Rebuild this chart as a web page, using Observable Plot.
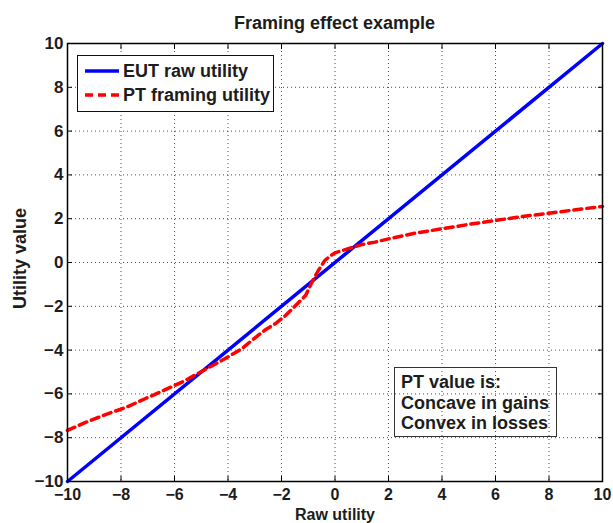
<!DOCTYPE html>
<html>
<head>
<meta charset="utf-8">
<script src="https://cdn.jsdelivr.net/npm/d3@7"></script>
<script src="https://cdn.jsdelivr.net/npm/@observablehq/plot@0.6"></script>
<style>
  body { margin: 0; background: #fff; }
  #wrap { position: relative; width: 613px; height: 523px; overflow: hidden;
          font-family: "Liberation Sans", Arial, Helvetica, sans-serif; font-weight: bold; color: #1c1c1c; }
  #wrap svg.plot { position: absolute; left: 0; top: 0; }
  .title { position: absolute; left: 56px; width: 557px; top: 13px; height: 20px; line-height: 20px;
           font-size: 18px; text-align: center; }
  .legend { position: absolute; left: 77px; top: 55px; width: 197px; height: 57px; box-sizing: border-box;
            border: 1px solid #111; background: #fff; }
  .legend .row { position: absolute; left: 0; height: 20px; line-height: 20px; font-size: 18px; white-space: nowrap; }
  .legend .row svg { position: absolute; left: 7px; top: 0; }
  .legend .row span { position: absolute; left: 45px; top: 0; }
  .note { position: absolute; left: 394px; top: 367px; width: 163px; height: 70px; box-sizing: border-box;
          border: 1px solid #333; }
  .note div { position: absolute; left: 6px; height: 20px; line-height: 20px; font-size: 18px; white-space: nowrap; }
</style>
</head>
<body>
<div id="wrap"></div>
<script>
// ---- data ----
const titleText = "Framing effect example";
const xLabel = "Raw utility";
const yLabel = "Utility value";
const tickValues = [-10, -8, -6, -4, -2, 0, 2, 4, 6, 8, 10];

const seriesNames = ["EUT raw utility", "PT framing utility"];
const seriesColors = ["#0000ff", "#ff0000"];

const eutX = [-10, 10];
const eutY = [-10, 10];

const ptX = [-10, -9.3, -8.5, -7.8, -7.1, -6.4, -5.65, -4.9, -4.15, -3.5, -3.0, -2.6, -2.2, -1.85, -1.5, -1.1, -0.88, -0.64, -0.38, -0.2, 0, 0.5, 1, 1.5, 2, 3, 4, 5, 6, 7, 8, 9, 10];
const ptY = [-7.67, -7.29, -6.91, -6.61, -6.22, -5.84, -5.42, -4.92, -4.42, -3.95, -3.45, -3.07, -2.77, -2.42, -2.0, -1.51, -0.94, -0.4, 0.09, 0.28, 0.44, 0.63, 0.82, 0.93, 1.08, 1.34, 1.54, 1.74, 1.92, 2.10, 2.25, 2.41, 2.56];

const noteLines = ["PT value is:", "Concave in gains", "Convex in losses"];

// ---- build ----
const eut = eutX.map((x, i) => ({x, y: eutY[i]}));
const pt = ptX.map((x, i) => ({x, y: ptY[i]}));

const font = '"Liberation Sans", Arial, Helvetica, sans-serif';
const gridStyle = {stroke: "#000", strokeOpacity: 0.7, strokeWidth: 1, strokeDasharray: "1,3"};

const chart = Plot.plot({
  width: 613,
  height: 523,
  marginLeft: 67,
  marginRight: 11,
  marginTop: 43,
  marginBottom: 42,
  style: {fontFamily: font, fontSize: "17px", fontWeight: "bold", color: "#1c1c1c", background: "transparent", overflow: "visible"},
  x: {domain: [-10, 10]},
  y: {domain: [-10, 10]},
  marks: [
    Plot.gridX(tickValues, gridStyle),
    Plot.gridY(tickValues, gridStyle),
    Plot.line(eut, {x: "x", y: "y", stroke: seriesColors[0], strokeWidth: 3.5}),
    Plot.line(pt, {x: "x", y: "y", stroke: seriesColors[1], strokeWidth: 3.5, strokeDasharray: "8,5"}),
    Plot.frame({stroke: "#000", strokeWidth: 1.5}),
    Plot.axisX(tickValues, {anchor: "bottom", tickSize: -5, tickPadding: 12, label: null, fontSize: 16, stroke: "#000"}),
    Plot.axisX(tickValues, {anchor: "top", tickSize: -5, tickFormat: () => "", label: null, stroke: "#000"}),
    Plot.axisY(tickValues, {anchor: "left", tickSize: -5, tickPadding: 9, label: null, fontSize: 17, stroke: "#000"}),
    Plot.axisY(tickValues, {anchor: "right", tickSize: -5, tickFormat: () => "", label: null, stroke: "#000"}),
    Plot.text([xLabel], {text: d => d, frameAnchor: "bottom", textAnchor: "middle", lineAnchor: "bottom", dy: 38, fontSize: 16, fontWeight: "bold"}),
    Plot.text([yLabel], {text: d => d, frameAnchor: "left", textAnchor: "middle", lineAnchor: "middle", rotate: -90, dx: -47, dy: -4, fontSize: 18, fontWeight: "bold"})
  ]
});
chart.classList.add("plot");

const wrap = document.getElementById("wrap");
wrap.appendChild(chart);

const title = document.createElement("div");
title.className = "title";
title.textContent = titleText;
wrap.appendChild(title);

// legend
const legend = document.createElement("div");
legend.className = "legend";
const rowCenters = [16, 40];
seriesNames.forEach((name, i) => {
  const row = document.createElement("div");
  row.className = "row";
  row.style.top = (rowCenters[i] - 10 - 1) + "px";
  const dash = i === 1 ? 'stroke-dasharray="8,5"' : "";
  row.innerHTML = `<svg width="34" height="20"><line x1="0" x2="34" y1="10" y2="10" stroke="${seriesColors[i]}" stroke-width="3.5" ${dash}/></svg><span></span>`;
  row.querySelector("span").textContent = name;
  legend.appendChild(row);
});
wrap.appendChild(legend);

// annotation
const note = document.createElement("div");
note.className = "note";
const noteCenters = [14.5, 35.5, 56];
noteLines.forEach((t, i) => {
  const d = document.createElement("div");
  d.style.top = (noteCenters[i] - 10 - 1) + "px";
  d.textContent = t;
  note.appendChild(d);
});
wrap.appendChild(note);
</script>
</body>
</html>
